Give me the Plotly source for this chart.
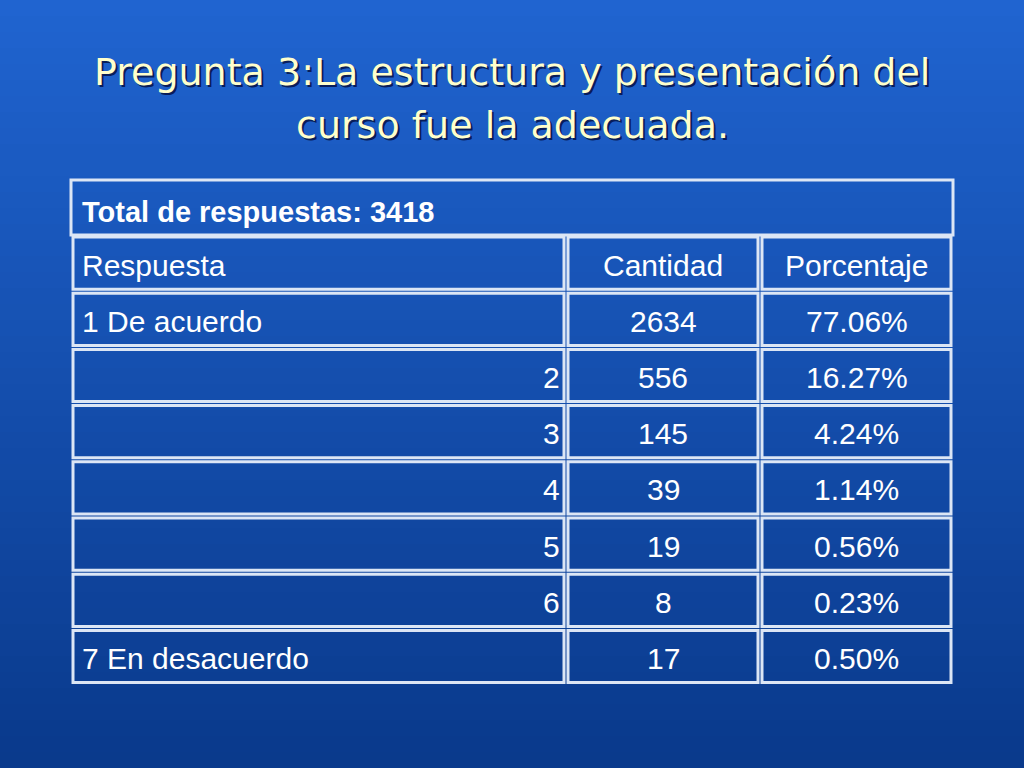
import plotly.graph_objects as go

title_lines = ["Pregunta 3:La estructura y presentación del", "curso fue la adecuada."]
total_label = "Total de respuestas: 3418"
headers = ["Respuesta", "Cantidad", "Porcentaje"]
respuestas = ["1 De acuerdo", "2", "3", "4", "5", "6", "7 En desacuerdo"]
cantidad = [2634, 556, 145, 39, 19, 8, 17]
porcentaje = ["77.06%", "16.27%", "4.24%", "1.14%", "0.56%", "0.23%", "0.50%"]

W, H = 1024, 768
fig = go.Figure()
shapes = []
ann = []

n = 48
top = (32, 100, 208); bot = (10, 58, 140)
for i in range(n):
    t = i / (n - 1)
    c = tuple(int(top[k] + (bot[k] - top[k]) * t) for k in range(3))
    shapes.append(dict(type="rect", x0=0, x1=W, y0=i * H / n, y1=(i + 1) * H / n + 1,
                       fillcolor="rgb(%d,%d,%d)" % c, line=dict(width=0), layer="below"))

for i, line in enumerate(title_lines):
    for dx, col in [(2, "rgba(0,0,40,0.7)"), (0, "#FFFFCC")]:
        ann.append(dict(x=512 + dx, y=72 + i * 53 + dx, text=line, showarrow=False,
                        font=dict(family="DejaVu Sans", size=38, color=col),
                        xanchor="center", yanchor="middle"))

x0, x1, xc1, xc2 = 71, 953, 566, 760
y_top = 180
rows_y = [235 + i * 56.2 for i in range(9)]
line = dict(color="#dce6f5", width=3)
shapes.append(dict(type="rect", x0=x0, x1=x1, y0=y_top, y1=rows_y[0], line=line))
for r in range(8):
    ya, yb = rows_y[r], rows_y[r + 1]
    for a, b in [(x0, xc1), (xc1, xc2), (xc2, x1)]:
        shapes.append(dict(type="rect", x0=a + 2, x1=b - 2, y0=ya + 2, y1=yb - 2, line=line))

fnt = dict(family="Liberation Sans", size=30, color="white")
ann.append(dict(x=80, y=(y_top + rows_y[0]) / 2 + 4, text="<b>" + total_label + "</b>", showarrow=False,
                xanchor="left", yanchor="middle", font=dict(family="Liberation Sans", size=29, color="white")))

def row_texts(r, a, b, c, left=True):
    ym = (rows_y[r] + rows_y[r + 1]) / 2 + 2
    if left:
        ann.append(dict(x=80, y=ym, text=a, showarrow=False, xanchor="left", yanchor="middle", font=fnt))
    else:
        ann.append(dict(x=562, y=ym, text=a, showarrow=False, xanchor="right", yanchor="middle", font=fnt))
    ann.append(dict(x=(xc1 + xc2) / 2, y=ym, text=b, showarrow=False, xanchor="center", yanchor="middle", font=fnt))
    ann.append(dict(x=(xc2 + x1) / 2, y=ym, text=c, showarrow=False, xanchor="center", yanchor="middle", font=fnt))

row_texts(0, headers[0], headers[1], headers[2])
for i in range(len(respuestas)):
    left = i == 0 or i == len(respuestas) - 1
    row_texts(i + 1, respuestas[i], str(cantidad[i]), porcentaje[i], left)

fig.update_layout(width=W, height=H, margin=dict(l=0, r=0, t=0, b=0),
                  xaxis=dict(range=[0, W], visible=False, fixedrange=True),
                  yaxis=dict(range=[H, 0], visible=False, fixedrange=True),
                  shapes=shapes, annotations=ann, showlegend=False,
                  paper_bgcolor="#1659c4", plot_bgcolor="rgba(0,0,0,0)")
fig.write_html("out.html", config=dict(displayModeBar=False))
with open("out.html", encoding="utf-8") as f:
    html = f.read()
html = html.replace("<body>", '<body style="margin:0;overflow:hidden">', 1)
with open("out.html", "w", encoding="utf-8") as f:
    f.write(html)
